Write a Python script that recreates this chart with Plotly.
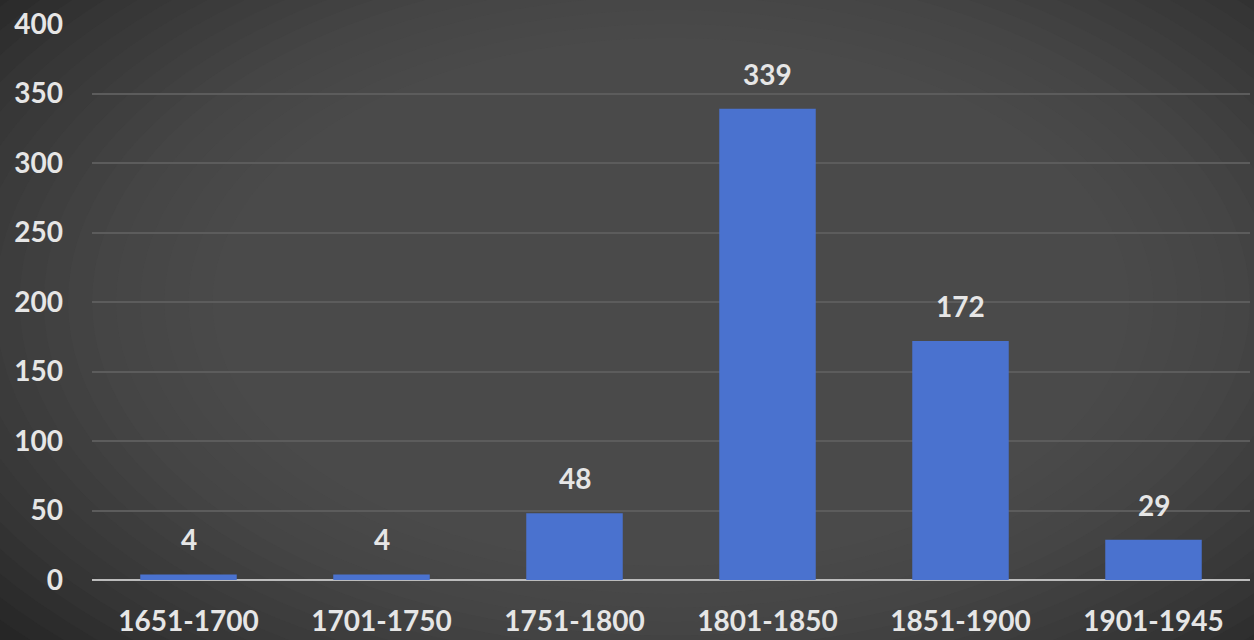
import plotly.graph_objects as go

categories = ["1651-1700", "1701-1750", "1751-1800", "1801-1850", "1851-1900", "1901-1945"]
values = [4, 4, 48, 339, 172, 29]
y_ticks = [0, 50, 100, 150, 200, 250, 300, 350, 400]

fig = go.Figure()
fig.add_trace(go.Bar(
    x=categories, y=values,
    marker=dict(color="#4a72cf", line=dict(width=0)),
    width=0.5,
    hoverinfo="x+y",
))

for c, v in zip(categories, values):
    fig.add_annotation(x=c, y=v, text=str(v), showarrow=False, yanchor="bottom",
                       yshift=16, font=dict(family="Lato", size=28, color="#e6e6e6", weight="bold"))

# radial-ish background glow
shapes = []
n = 18
for i in range(n):
    f = i / n
    shapes.append(dict(type="circle", xref="paper", yref="paper", layer="below",
                       x0=-0.35 + 0.75 * f * 0.5 + 0.1, x1=1.35 - 0.75 * f * 0.5 - 0.1,
                       y0=-0.5 + 0.9 * f * 0.5 + 0.1, y1=1.5 - 0.9 * f * 0.5 - 0.1,
                       fillcolor="#6a6a6a", opacity=0.06, line=dict(width=0)))

fig.update_layout(
    width=1254, height=640,
    margin=dict(l=92, r=4, t=24, b=60),
    paper_bgcolor="#262626",
    plot_bgcolor="rgba(0,0,0,0)",
    showlegend=False,
    shapes=shapes,
    font=dict(family="Lato", color="#e6e6e6"),
    xaxis=dict(showgrid=False, zeroline=False, showline=False,
               tickfont=dict(family="Lato", size=28, color="#e6e6e6", weight="bold"),
               ticklabelstandoff=22, ticks=""),
    yaxis=dict(range=[0, 400], tickvals=y_ticks, showgrid=True, gridcolor="#5c5c5c", gridwidth=2,
               zeroline=True, zerolinecolor="#bcbcbc", zerolinewidth=2,
               tickfont=dict(family="Lato", size=28, color="#e6e6e6", weight="bold"),
               ticklabelstandoff=28, ticks=""),
)

fig.write_html("out.html")
